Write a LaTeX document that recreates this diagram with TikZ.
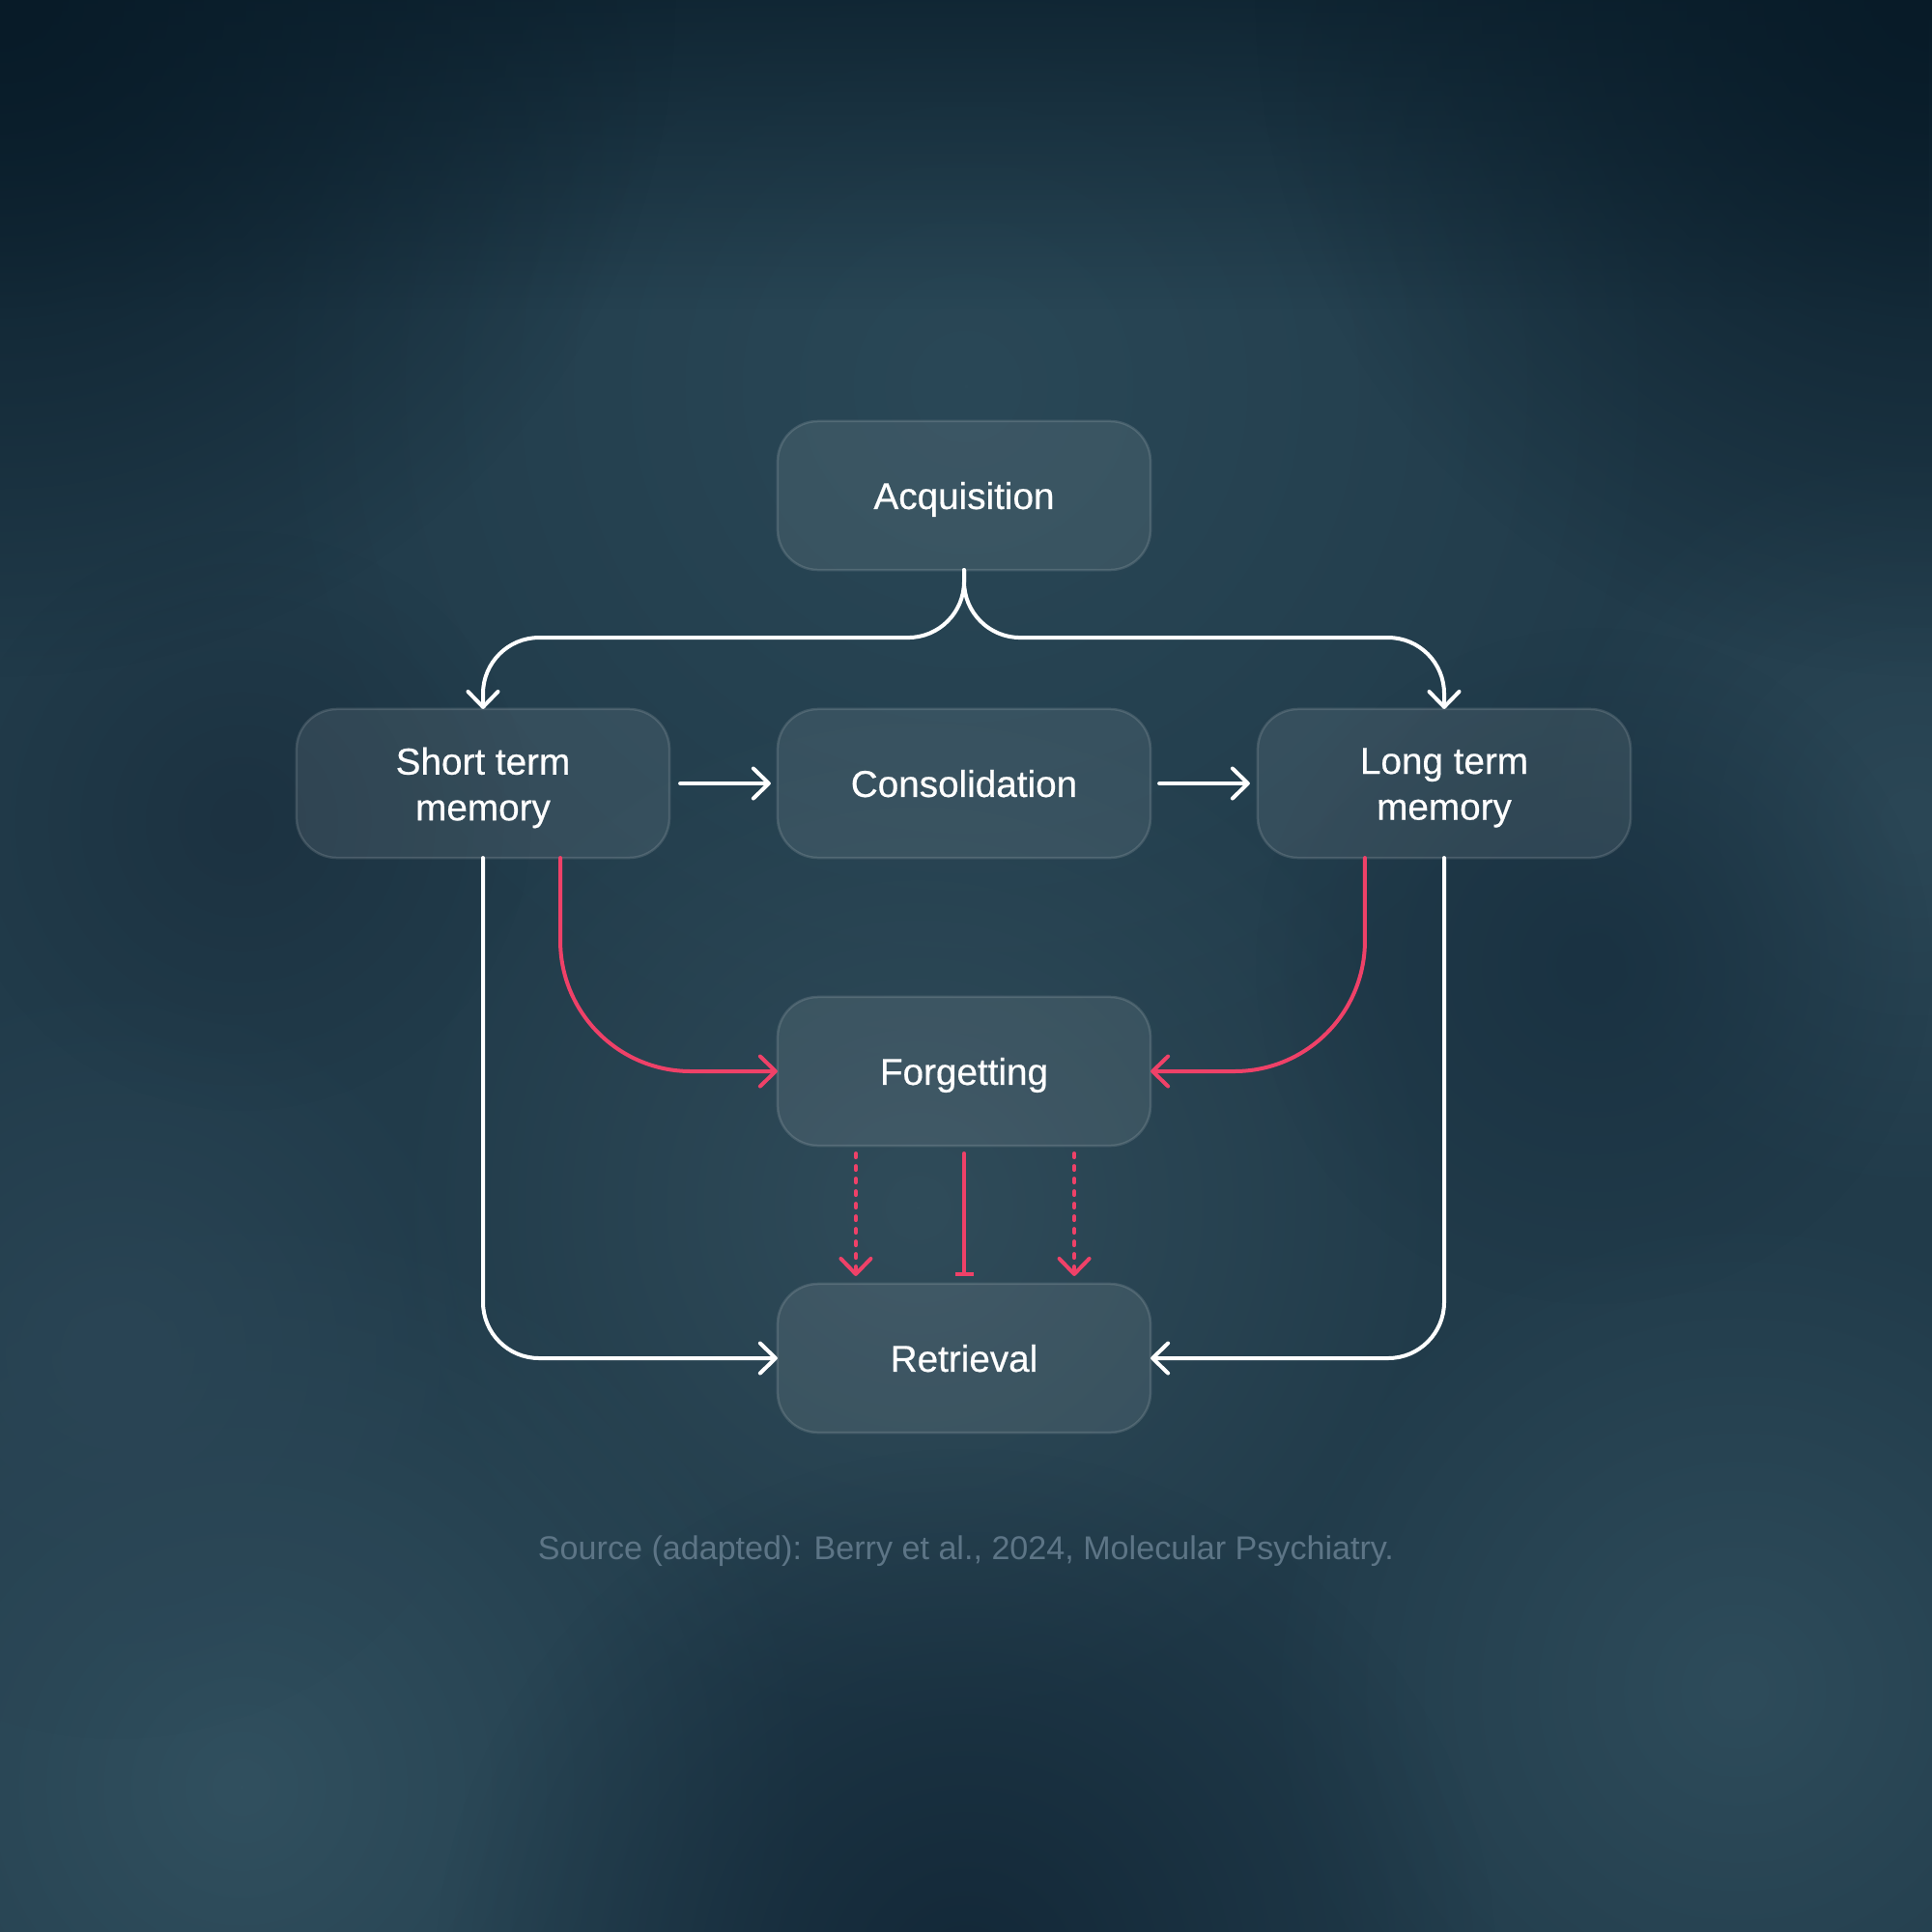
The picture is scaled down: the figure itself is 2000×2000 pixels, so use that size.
\documentclass[tikz,border=0pt]{standalone}
\usepackage{fontspec}
\setmainfont{Liberation Sans}[BoldFont={Liberation Sans},BoldFeatures={FakeBold=0.5}]
\usetikzlibrary{arrows.meta,fadings}
\definecolor{bgbase}{HTML}{213B4A}
\definecolor{accent}{HTML}{EF4168}
\definecolor{srcgray}{HTML}{5D7586}
\tikzfading[name=blobfade, inner color=transparent!0, outer color=transparent!100]
\tikzfading[name=topfade, top color=transparent!0, bottom color=transparent!100]
\begin{document}
\begin{tikzpicture}[x=0.01cm,y=-0.01cm,
  >={Straight Barb[length=0.16cm,width=0.31cm,round]},
  box/.style={draw=white, draw opacity=0.13, fill=white, fill opacity=0.085,
    rounded corners=0.42cm, minimum width=3.86cm, minimum height=1.54cm,
    line width=0.025cm, inner sep=0pt, outer sep=0pt},
  lbl/.style={text=white, inner sep=0pt, align=center,
    font=\fontsize{11}{13.5}\selectfont\bfseries},
  lblone/.style={lbl, text height=0.279cm, text depth=0pt},
  lbltwo/.style={lbl, yshift=-0.045cm},
  wline/.style={draw=white, line width=0.04cm, line cap=round, line join=round},
  rline/.style={draw=accent, line width=0.04cm, line cap=round, line join=round},
  dotline/.style={rline, dash pattern=on 0.04cm off 0.09cm}
]
% background
\fill[bgbase] (0,0) rectangle (2000,2000);
\useasboundingbox (0,0) rectangle (2000,2000);
\fill[color={rgb,255:red,42;green,72;blue,87}, path fading=blobfade] (1000,400) circle (7.5cm);
\fill[color={rgb,255:red,48;green,76;blue,90}, path fading=blobfade] (950,1250) circle (5.5cm);
\fill[color={rgb,255:red,49;green,80;blue,95}, path fading=blobfade] (250,1850) circle (6cm);
\fill[color={rgb,255:red,46;green,76;blue,91}, path fading=blobfade] (1800,1750) circle (5cm);
\fill[color={rgb,255:red,43;green,71;blue,86}, path fading=blobfade] (1980,850) circle (4cm);
\fill[color={rgb,255:red,42;green,69;blue,85}, path fading=blobfade] (120,1400) circle (4cm);
\fill[color={rgb,255:red,19;green,40;blue,56}, path fading=blobfade] (1000,2050) circle (5.5cm);
\fill[color={rgb,255:red,26;green,50;blue,66}, path fading=blobfade] (1650,1000) circle (3.5cm);
\fill[color={rgb,255:red,28;green,50;blue,65}, path fading=blobfade] (250,850) circle (3cm);
\fill[color={rgb,255:red,10;green,30;blue,43}, path fading=topfade, opacity=0.75] (0,0) rectangle (2000,320);
\fill[color={rgb,255:red,8;green,27;blue,40}, path fading=blobfade] (0,0) circle (7cm);
\fill[color={rgb,255:red,8;green,27;blue,40}, path fading=blobfade] (2000,0) circle (7cm);

% boxes
\node[box] (acq) at (998,513) {};
\node[box] (stm) at (500,811) {};
\node[box] (con) at (998,811) {};
\node[box] (ltm) at (1495,811) {};
\node[box] (forg) at (998,1109) {};
\node[box] (ret) at (998,1406) {};
% labels
\node[lblone] (acqt) at (acq) {Acquisition};
\node[lbltwo] (stmt) at (stm) {Short term\\memory};
\node[lblone] (cont) at (con) {Consolidation};
\node[lbltwo] (ltmt) at (ltm) {Long term\\memory};
\node[lblone] (forgt) at (forg) {Forgetting};
\node[lblone] (rett) at (ret) {Retrieval};
\node[text=srcgray, font=\fontsize{9.7}{11.5}\selectfont, text height=0.24cm, text depth=0pt] (src) at (1000,1602)
  {Source (adapted): Berry et al., 2024, Molecular Psychiatry.};

% connectors
\draw[wline,->,rounded corners=0.58cm] (acq.south) -- ++(0,70) -| (stm.north);
\draw[wline,->,rounded corners=0.58cm] (acq.south) -- ++(0,70) -| (ltm.north);
\draw[wline,->,shorten <=0.11cm,shorten >=0.07cm] (stm.east) -- (con.west);
\draw[wline,->,shorten <=0.09cm,shorten >=0.08cm] (con.east) -- (ltm.west);
\draw[wline,->,rounded corners=0.58cm] (stm.south) |- (ret.west);
\draw[wline,->,rounded corners=0.58cm] (ltm.south) |- (ret.east);
\draw[rline,->,rounded corners=1.35cm] ([xshift=0.80cm]stm.south) |- (forg.west);
\draw[rline,->,rounded corners=1.35cm] ([xshift=-0.82cm]ltm.south) |- (forg.east);
\draw[dotline,->,shorten <=0.08cm,shorten >=0.08cm] ([xshift=-1.12cm]forg.south) -- ([xshift=-1.12cm]ret.north);
\draw[dotline,->,shorten <=0.08cm,shorten >=0.08cm] ([xshift=1.14cm]forg.south) -- ([xshift=1.14cm]ret.north);
\draw[rline,-{Bar[width=0.19cm]},shorten <=0.08cm,shorten >=0.08cm] (forg.south) -- (ret.north);
\end{tikzpicture}
\end{document}
